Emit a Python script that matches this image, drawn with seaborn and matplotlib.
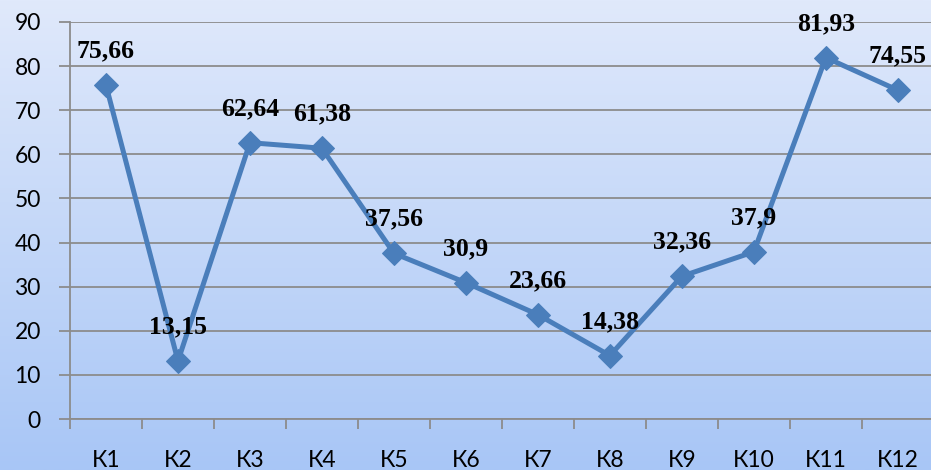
import numpy as np
import pandas as pd
import seaborn as sns
import matplotlib
matplotlib.use('Agg')
from matplotlib import pyplot as plt
from matplotlib.ticker import FixedLocator

categories = ['К1', 'К2', 'К3', 'К4', 'К5', 'К6', 'К7', 'К8', 'К9', 'К10', 'К11', 'К12']
values = [75.66, 13.15, 62.64, 61.38, 37.56, 30.9, 23.66, 14.38, 32.36, 37.9, 81.93, 74.55]
labels = ['75,66', '13,15', '62,64', '61,38', '37,56', '30,9', '23,66', '14,38', '32,36', '37,9', '81,93', '74,55']
yticks = [0, 10, 20, 30, 40, 50, 60, 70, 80, 90]

df = pd.DataFrame({'cat': categories, 'val': values, 'pos': np.arange(len(categories))})

sns.set_style('white')
plt.rcParams['font.family'] = ['Lato', 'DejaVu Sans']

fig = plt.figure(figsize=(9.31, 4.70), dpi=100)

# gradient background
bg = fig.add_axes([0, 0, 1, 1], zorder=0)
top = np.array([224, 233, 251]) / 255
bot = np.array([168, 198, 246]) / 255
t = np.linspace(0, 1, 256)[:, None]
grad = top[None, :] * (1 - t) + bot[None, :] * t
bg.imshow(grad[:, None, :], aspect='auto', extent=[0, 1, 0, 1])
bg.set_axis_off()

ax = fig.add_axes([70 / 931, 51 / 470, 1 - 70 / 931 + 0.003, 397 / 470], zorder=1)
ax.patch.set_alpha(0)

line_color = '#4a7ebb'
sns.lineplot(data=df, x='pos', y='val', ax=ax, color=line_color, linewidth=3.6,
             marker='D', markersize=12, markeredgecolor=line_color, zorder=3)

for x, y, lab in zip(df['pos'], df['val'], labels):
    ax.annotate(lab, (x, y), xytext=(0, 24.5), textcoords='offset points',
                ha='center', va='center', fontsize=18.5, fontweight='bold',
                family=['Liberation Serif', 'DejaVu Serif'], color='black', zorder=4)

ax.set_xlim(-0.5, 11.5)
ax.set_ylim(0, 90)
ax.set_yticks(yticks)
ax.yaxis.grid(True, color='#8c8c8c', linewidth=1.3)
ax.set_axisbelow(True)
ax.set_xticks(df['pos'])
ax.set_xticklabels(categories)
ax.xaxis.set_minor_locator(FixedLocator(np.arange(-0.5, 12, 1)))
ax.tick_params(axis='x', which='major', length=0, pad=22, labelsize=16.5, labelcolor='black')
ax.tick_params(axis='x', which='minor', length=7, width=1.3, color='#8c8c8c', direction='out')
ax.tick_params(axis='y', length=8, width=1.3, color='#8c8c8c', labelsize=16.5, pad=13,
               labelcolor='black')
ax.tick_params(axis='y', which='major', left=True)
ax.xaxis.set_tick_params(which='minor', bottom=True)
for s in ['top', 'right']:
    ax.spines[s].set_visible(False)
for s in ['left', 'bottom']:
    ax.spines[s].set_color('#8c8c8c')
    ax.spines[s].set_linewidth(1.3)
ax.set_xlabel('')
ax.set_ylabel('')

plt.savefig('out.png', dpi=100)
plt.close(fig)
